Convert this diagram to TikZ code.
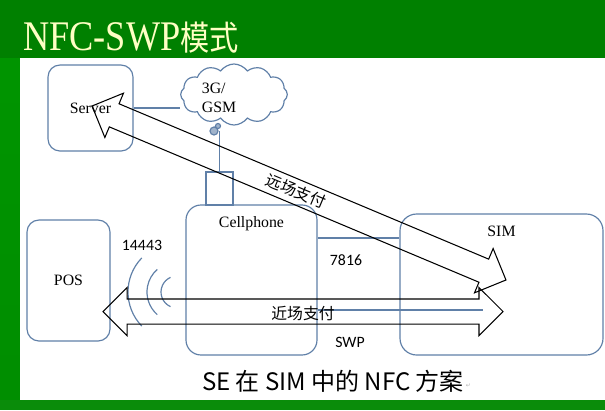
\documentclass[tikz,border=0pt]{standalone}
\usepackage{graphicx}
\usepackage{fontspec}
\setmainfont{Liberation Serif}
\newfontfamily\cjk{Noto Sans CJK SC}
\newfontfamily\numfont{Carlito}
\newfontfamily\symfont{DejaVu Sans}
\usetikzlibrary{calc,shapes.symbols,shapes.arrows}
\definecolor{bggreen}{RGB}{0,128,0}
\definecolor{brightgreen}{RGB}{0,196,0}
\definecolor{footgreen}{RGB}{10,140,10}
\definecolor{boxblue}{RGB}{96,128,168}
\definecolor{titleyellow}{RGB}{255,255,196}
\tikzset{
  unit/.style={draw=boxblue,line width=1pt,rounded corners=0.36cm},
  link/.style={draw=boxblue,line width=1pt},
  blockarrow/.style={double arrow,draw=black,line width=0.9pt,inner sep=0pt,
    inner ysep=0.36cm,double arrow head extend=0.345cm,double arrow tip angle=90},
  boxlabel/.style={font=\fontsize{13.5}{16}\selectfont},
  numlabel/.style={font=\numfont\fontsize{13.5}{16}\selectfont},
  paylabel/.style={font=\cjk\fontsize{13.5}{16}\selectfont,inner sep=0pt},
}
\begin{document}
\begin{tikzpicture}[x=0.03cm,y=-0.03cm]
  \useasboundingbox (0,0) rectangle (605,410);
  % slide background
  \fill[bggreen] (0,0) rectangle (605,410);
  \shade[top color=bggreen!70!brightgreen,middle color=brightgreen,bottom color=bggreen!80!brightgreen] (0,58) rectangle (20,400);
  \fill[footgreen] (0,400) rectangle (605,410);
  \fill[white] (20,58) rectangle (605,400);
  \node[anchor=base west,text=titleyellow,inner sep=0pt] (title) at (23,50)
    {\scalebox{0.86}[1]{\fontsize{36}{36}\selectfont NFC-SWP\cjk\fontsize{29}{29}\selectfont 模式}};

  % units
  \node[unit,minimum width=2.55cm,minimum height=2.58cm,boxlabel] (srv) at (90.5,108) {Server};
  \node[unit,minimum width=2.49cm,minimum height=3.63cm,boxlabel] (pos) at (68.5,280.5) {POS};
  \node[unit,rounded corners=0.45cm,minimum width=3.93cm,minimum height=4.5cm] (cell) at (251.5,280) {};
  \node[boxlabel] (celllbl) at ($(cell.north)+(0,19)$) {Cellphone};
  \node[unit,rounded corners=0.5cm,minimum width=6.09cm,minimum height=4.23cm] (sim) at (501.5,284.5) {};
  \node[boxlabel] (simlbl) at ($(sim.north)+(0,18)$) {SIM};
  \node[link,minimum width=0.81cm,minimum height=0.99cm,inner sep=0pt] (ant) at (219.5,188.5) {};
  \node[cloud,draw=boxblue,line width=1pt,cloud puffs=12,cloud puff arc=110,aspect=1.75,
    minimum width=3.2cm,minimum height=1.83cm,inner sep=0pt] (cloud) at (234,94.5) {};
  \node[boxlabel,align=left,inner sep=0pt] (gsmlbl) at (219,98) {3G/\\GSM};

  % links
  \coordinate (knot) at (214,131);
  \coordinate (bus) at (0,238);
  \coordinate (swpend) at (483,310);
  \draw[link] (srv.east) -- (srv.east -| cloud.west);
  \draw[link,fill=boxblue!60] (knot) circle[radius=4] ($(knot)+(4,-5)$) circle[radius=2.5];
  \draw[link] (ant.north) -- (ant.north |- knot);
  \draw[link] (cell.east |- bus) -- (sim.west |- bus);
  \draw[link] (cell.east |- swpend) -- (swpend);

  % radio waves
  \coordinate (wave) at (177,292);
  \draw[link] (wave) ++(136:49) arc[start angle=136,end angle=224,radius=49];
  \draw[link] (wave) ++(131:30) arc[start angle=131,end angle=229,radius=30];
  \draw[link] (wave) ++(114:16) arc[start angle=114,end angle=246,radius=16];

  % payment paths
  \coordinate (srvtip) at (92,106);
  \coordinate (simtip) at (506,280);
  \coordinate (postip) at (103,311.5);
  \coordinate (swptip) at (503,311.5);
  \path let \p1=($(simtip)-(srvtip)$) in
    node[blockarrow,minimum height={veclen(\x1,\y1)},rotate={atan2(\y1,\x1)}] (remote) at ($(srvtip)!0.5!(simtip)$) {}
    node[paylabel,rotate={atan2(\y1,\x1)}] (remotelbl) at ($(remote.center)+(-3,-2)$) {远场支付};
  \path let \p1=($(swptip)-(postip)$) in
    node[blockarrow,minimum height={veclen(\x1,\y1)}] (local) at ($(postip)!0.5!(swptip)$) {};
  \node[paylabel] (locallbl) at ($(local.center)+(0,1.5)$) {近场支付};

  % labels
  \node[numlabel] (nfcstd) at (142,245) {14443};
  \node[numlabel] (isostd) at (346,260) {7816};
  \node[numlabel] (swplbl) at (350,342) {SWP};
  \node[font=\cjk\fontsize{20.5}{24}\selectfont,inner sep=0pt] (caption) at (333,381) {SE 在 SIM 中的 NFC 方案};
  \node[font=\symfont\fontsize{5}{5}\selectfont,text=gray!60,inner sep=0pt] (retmark) at ($(caption.east)+(4,5)$) {↵};
\end{tikzpicture}
\end{document}
